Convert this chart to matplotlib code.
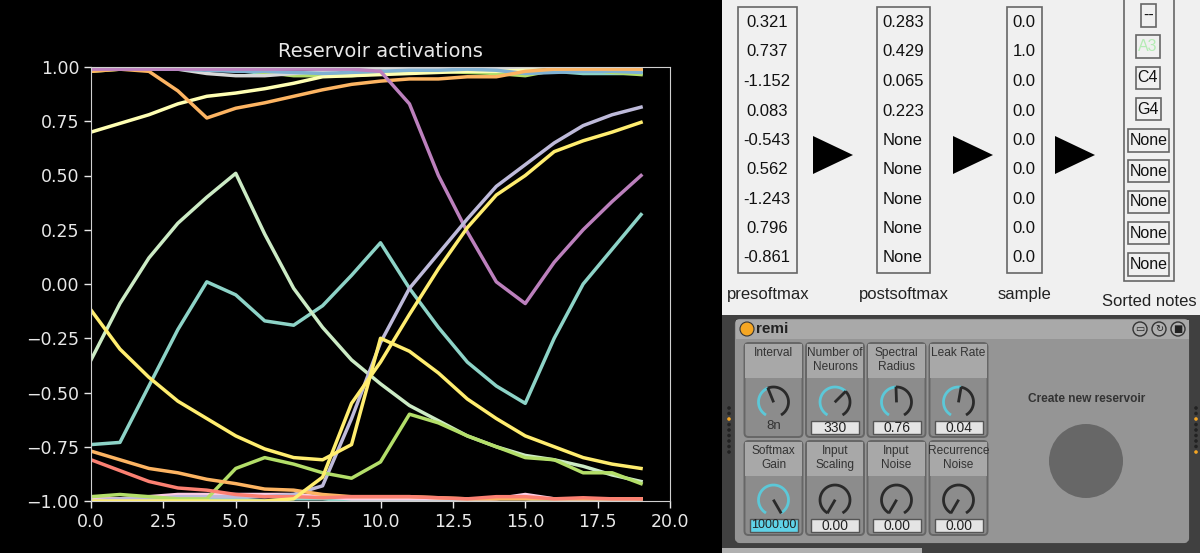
# Reservoir activations plot plus the Max for Live device panels
import numpy as np
import matplotlib
matplotlib.use("Agg")
import matplotlib.pyplot as plt
from matplotlib.patches import Rectangle, FancyBboxPatch, Polygon, Circle

steps = list(range(20))

# Activations
teal_a = [-0.74,-0.73,-0.47,-0.21,0.01,-0.05,-0.17,-0.19,-0.10,0.04,0.19,-0.02,-0.20,-0.36,-0.47,-0.55,-0.25,0.00,0.16,0.32]
pale_a = [-0.35,-0.09,0.12,0.28,0.40,0.51,0.23,-0.02,-0.20,-0.35,-0.46,-0.56,-0.63,-0.70,-0.75,-0.79,-0.81,-0.84,-0.88,-0.91]
cream_a = [0.70,0.74,0.78,0.83,0.865,0.88,0.90,0.925,0.955,0.96,0.965,0.97,0.975,0.98,0.98,0.985,0.985,0.985,0.985,0.985]
orange_a = [0.98,0.99,0.98,0.89,0.765,0.81,0.835,0.865,0.895,0.92,0.935,0.945,0.945,0.955,0.955,0.98,0.99,0.99,0.99,0.99]
purple_a = [0.99,0.99,0.99,0.99,0.99,0.99,0.99,0.99,0.99,0.99,0.98,0.83,0.50,0.24,0.01,-0.09,0.10,0.25,0.38,0.50]
lav_a = [-1.0,-0.99,-0.99,-0.98,-0.98,-0.98,-0.98,-0.97,-0.93,-0.62,-0.27,-0.02,0.14,0.30,0.45,0.55,0.65,0.73,0.78,0.815]
yellow_a = [-0.12,-0.30,-0.43,-0.54,-0.62,-0.70,-0.76,-0.80,-0.81,-0.74,-0.25,-0.31,-0.41,-0.53,-0.62,-0.70,-0.75,-0.80,-0.83,-0.85]
yellow_b = [-1.0,-1.0,-1.0,-1.0,-1.0,-1.0,-1.0,-0.99,-0.89,-0.55,-0.36,-0.14,0.07,0.26,0.41,0.50,0.61,0.66,0.70,0.745]
green_a = [-0.98,-0.97,-0.98,-0.99,-0.99,-0.85,-0.80,-0.83,-0.87,-0.895,-0.82,-0.60,-0.64,-0.70,-0.75,-0.80,-0.81,-0.87,-0.87,-0.92]
orange_b = [-0.77,-0.81,-0.85,-0.87,-0.90,-0.92,-0.945,-0.95,-0.97,-0.98,-0.98,-0.98,-0.985,-0.99,-0.99,-0.99,-0.99,-0.99,-0.99,-0.99]
red_a = [-0.81,-0.86,-0.91,-0.94,-0.95,-0.97,-0.98,-0.98,-0.985,-0.98,-0.98,-0.98,-0.985,-0.99,-0.98,-0.98,-0.99,-0.985,-0.99,-0.99]
pink_a = [-0.99,-0.99,-0.98,-0.97,-0.97,-0.97,-0.97,-0.97,-0.98,-0.99,-0.99,-0.99,-0.99,-0.99,-0.99,-0.97,-0.99,-0.99,-0.99,-0.99]
blue_low = [-1.0,-1.0,-0.99,-0.99,-0.99,-0.99,-1.0,-0.99,-0.99,-1.0,-1.0,-1.0,-1.0,-1.0,-0.99,-0.99,-1.0,-1.0,-1.0,-0.99]
top_blue = [0.995,0.995,0.99,0.99,0.985,0.98,0.98,0.975,0.97,0.975,0.98,0.985,0.985,0.99,0.985,0.97,0.975,0.98,0.98,0.975]
top_green = [0.98,0.99,0.995,0.995,0.995,0.99,0.975,0.96,0.96,0.96,0.97,0.975,0.98,0.975,0.97,0.96,0.985,0.99,0.975,0.965]
top_grey = [0.995,0.99,0.99,0.99,0.97,0.96,0.96,0.97,0.98,0.99,0.995,0.99,0.99,0.995,0.99,0.99,0.98,0.985,0.985,0.985]
top_teal = [0.995,0.995,0.995,0.995,0.99,0.985,0.97,0.965,0.965,0.97,0.975,0.98,0.985,0.98,0.985,0.99,0.98,0.97,0.97,0.97]

series = [blue_low, pink_a, top_teal, top_green, top_grey, cream_a, top_blue, orange_a,
          teal_a, pale_a, purple_a, lav_a, green_a, orange_b, red_a, yellow_a, yellow_b]
colors = ["#8dd3c7", "#fccde5", "#8dd3c7", "#b3de69", "#d9d9d9", "#ffffb3", "#80b1d3", "#fdb462",
          "#8dd3c7", "#ccebc5", "#bc80bd", "#bebada", "#b3de69", "#fdb462", "#fb8072", "#ffed6f", "#ffed6f"]

# Panel texts
presoftmax = ["0.321", "0.737", "-1.152", "0.083", "-0.543", "0.562", "-1.243", "0.796", "-0.861"]
postsoftmax = ["0.283", "0.429", "0.065", "0.223", "None", "None", "None", "None", "None"]
sample = ["0.0", "1.0", "0.0", "0.0", "0.0", "0.0", "0.0", "0.0", "0.0"]
notes = ["--", "A3", "C4", "G4", "None", "None", "None", "None", "None"]
knob_titles = ["Interval", "Number of\nNeurons", "Spectral\nRadius", "Leak Rate",
               "Softmax\nGain", "Input\nScaling", "Input\nNoise", "Recurrence\nNoise"]
knob_values = ["8n", "330", "0.76", "0.04", "1000.00", "0.00", "0.00", "0.00"]
knob_angles = [112, 45, 92, 80, -60, 240, 240, 240]

W, H = 1200, 553
fig = plt.figure(figsize=(W / 100, H / 100), dpi=100, facecolor="black")

# Line chart
ax = fig.add_axes([91 / W, 1 - 501 / H, (670 - 91) / W, (501 - 67) / H], facecolor="black")
for y, c in zip(series, colors):
    ax.plot(steps, y, color=c, lw=2.5)
ax.set_xlim(0, 20)
ax.set_ylim(-1, 1)
ax.set_xticks([0, 2.5, 5, 7.5, 10, 12.5, 15, 17.5, 20])
ax.set_xticklabels(["0.0", "2.5", "5.0", "7.5", "10.0", "12.5", "15.0", "17.5", "20.0"])
ax.set_yticks([-1, -0.75, -0.5, -0.25, 0, 0.25, 0.5, 0.75, 1])
ax.set_yticklabels(["\u22121.00", "\u22120.75", "\u22120.50", "\u22120.25", "0.00", "0.25", "0.50", "0.75", "1.00"])
ax.tick_params(colors="#e8e8e8", labelsize=12.5, length=5, width=1)
for s in ax.spines.values():
    s.set_color("#d0d0d0")
ax.set_title("Reservoir activations", color="#e8e8e8", fontsize=14, pad=7)

# Overlay in pixel coordinates for the screenshots on the right
pn = fig.add_axes([0, 0, 1, 1], facecolor="none")
pn.set_xlim(0, W)
pn.set_ylim(H, 0)
pn.axis("off")
SANS = "Liberation Sans"


def box(x0, y0, x1, y1, fc="none", ec="#666666", lw=1.2, z=2):
    pn.add_patch(Rectangle((x0, y0), x1 - x0, y1 - y0, fc=fc, ec=ec, lw=lw, zorder=z))


def label(x, y, s, size=12, color="#111111", weight="normal", z=5, linespacing=1.05):
    pn.text(x, y, s, fontsize=size, color=color, ha="center", va="center", family=SANS,
            weight=weight, zorder=z, linespacing=linespacing)


def arc(cx, cy, r, a0, a1, color):
    t = np.radians(np.linspace(a0, a1, 40))
    pn.plot(cx + r * np.cos(t), cy - r * np.sin(t), color=color, lw=2, zorder=4,
            solid_capstyle="butt")


# Top right: softmax columns
box(722, 0, W, 315, fc="#f0f0f0", ec="none", lw=0, z=1)
row_y = [22.3, 51.7, 81.3, 111, 140.3, 169.3, 199, 228.3, 258]
for col, cx, x0, x1 in [(presoftmax, 767, 738, 797), (postsoftmax, 903, 877, 930), (sample, 1024, 1007, 1042)]:
    box(x0, 7, x1, 273)
    for y, s in zip(row_y, col):
        label(cx, y, s)
for x0 in (813, 953, 1055):
    pn.add_patch(Polygon([(x0, 136), (x0, 174), (x0 + 40, 155)], fc="black", ec="none", zorder=3))
box(1124, -3, 1174, 281)
note_boxes = [(1141, 1156, 4, 27), (1136, 1160, 35, 58), (1136, 1160, 67, 89), (1136, 1161, 98, 120),
              (1128, 1169, 129, 152), (1128, 1169, 160, 182), (1128, 1169, 191, 213),
              (1128, 1169, 222, 244), (1128, 1169, 253, 276)]
for (x0, x1, y0, y1), s in zip(note_boxes, notes):
    box(x0, y0, x1, y1)
    label((x0 + x1) / 2, (y0 + y1) / 2, s, size=11.5, color="#b4ecb4" if s == "A3" else "#111111")
label(768, 295, "presoftmax", color="#222222")
label(904, 295, "postsoftmax", color="#222222")
label(1024, 295, "sample", color="#222222")
label(1149, 302, "Sorted notes", color="#222222")

# Bottom right: device
box(722, 315, W, H, fc="#404040", ec="none", lw=0, z=1)
box(722, 548, 922, H, fc="#b0b0b0", ec="none", lw=0, z=1.5)
pn.add_patch(FancyBboxPatch((737, 321), 450, 220, boxstyle="round,pad=0,rounding_size=3",
                            fc="#959595", ec="#959595", lw=3, zorder=2))
box(736, 320, 1189, 339, fc="#a9a9a9", ec="none", lw=0, z=2.1)
pn.add_patch(Circle((747, 329), 7, fc="#f5a623", ec="#333333", lw=0.8, zorder=3))
label(772, 329, "remi", size=11, weight="bold", color="#222222")
for cx, glyph in [(1140, "\u25ad"), (1159, "\u21bb"), (1178, "\u25a0")]:
    pn.add_patch(Circle((cx, 329), 7, fc="#b0b0b0", ec="#333333", lw=1, zorder=3))
    pn.text(cx, 329, glyph, fontsize=7, color="#222222", ha="center", va="center", zorder=4)

# Small dot columns at both sides of the device
for dx, lit in [(729, (418,)), (1196, (419, 452))]:
    for dy in np.arange(408, 453, 5.5):
        lit_dot = any(abs(dy - v) < 2.8 for v in lit)
        pn.add_patch(Circle((dx, dy), 1.8, fc="#f5a623" if lit_dot else "#222222", ec="none", zorder=3))

col_x = [744.5, 806, 867.5, 929.5]
row_top = [343, 441]
for i, (title, val, ang) in enumerate(zip(knob_titles, knob_values, knob_angles)):
    x0, y0 = col_x[i % 4], row_top[i // 4]
    pn.add_patch(FancyBboxPatch((x0, y0), 58, 94, boxstyle="round,pad=0,rounding_size=4",
                                fc="#8c8c8c", ec="#666666", lw=1.4, zorder=3))
    box(x0 + 0.7, y0 + 1, x0 + 57.3, y0 + 35, fc="#a8a8a8", ec="none", lw=0, z=3.1)
    label(x0 + 29, y0 + 17 if "\n" in title else y0 + 10, title, size=8.6, color="#333333", linespacing=1.15)
    cx, cy = x0 + 29, y0 + 59
    # cyan up to the current value, dark for the rest of the range
    if ang < 240:
        arc(cx, cy, 15, 240, ang, "#5cc8d8")
    if ang > -60:
        arc(cx, cy, 15, ang, -60, "#2a2a2a")
    t = np.radians(ang)
    pn.plot([cx + np.cos(t), cx + 14 * np.cos(t)], [cy - np.sin(t), cy - 14 * np.sin(t)],
            color="#2a2a2a", lw=2, zorder=6)
    if i == 0:
        label(cx, y0 + 83, val, size=9.5, color="#333333")
    else:
        hi = i == 4
        box(x0 + 5, y0 + 78, x0 + 53, y0 + 91, fc="#5fd3e8" if hi else "#e4e4e4", ec="#555555", lw=1, z=5)
        label(cx, y0 + 84.5, val, size=9 if hi else 10, color="#222222", z=6)

label(1087, 399, "Create new reservoir", size=8.6, weight="bold", color="#333333")
pn.add_patch(Circle((1086, 461), 37, fc="#676767", ec="none", zorder=3))

fig.savefig("out.png", dpi=100, facecolor="black")
